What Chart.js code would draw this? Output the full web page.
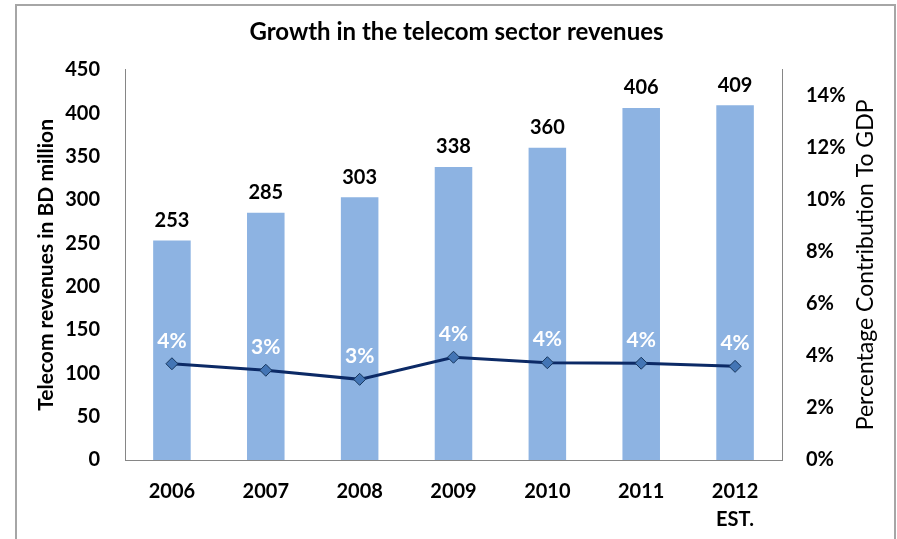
<!DOCTYPE html>
<html>
<head>
<meta charset="utf-8">
<script src="https://cdn.jsdelivr.net/npm/chart.js@4"></script>
<style>
  html, body { margin: 0; padding: 0; background: #fff; overflow: hidden; }
  #frame { position: absolute; left: 15px; top: 4px; width: 877px; height: 600px; border: 2px solid #a6a6a6; }
  #myChart { position: absolute; left: 0; top: 0; }
</style>
</head>
<body>
<div id="frame"></div>
<canvas id="myChart" width="897" height="539"></canvas>
<script>
const FONT = "Lato, 'Open Sans', sans-serif";

// data
const years = ["2006", "2007", "2008", "2009", "2010", "2011", ["2012", "EST."]];
const revenues = [253, 285, 303, 338, 360, 406, 409];
const gdpShare = [0.037, 0.0345, 0.031, 0.0395, 0.0374, 0.0372, 0.036];

Chart.defaults.font.family = FONT;
Chart.defaults.color = "#000";

// value labels above the bars and points, plus the right axis title (reads bottom to top)
const valueLabels = {
  id: "valueLabels",
  afterDatasetsDraw(chart) {
    const ctx = chart.ctx;
    ctx.save();
    ctx.textAlign = "center";
    ctx.textBaseline = "middle";
    ctx.font = "bold 20px " + FONT;
    ctx.fillStyle = "#000";
    chart.getDatasetMeta(0).data.forEach((bar, i) => {
      ctx.fillText(revenues[i], bar.x, bar.y - 20);
    });
    ctx.font = "bold 21px " + FONT;
    ctx.fillStyle = "#fff";
    chart.getDatasetMeta(1).data.forEach((pt, i) => {
      ctx.fillText(Math.round(gdpShare[i] * 100) + "%", pt.x, pt.y - 23);
    });
    const area = chart.chartArea;
    ctx.translate(866, (area.top + area.bottom) / 2);
    ctx.rotate(-Math.PI / 2);
    ctx.font = "23px " + FONT;
    ctx.fillStyle = "#000";
    ctx.fillText("Percentage Contribution To GDP", 0, 0);
    ctx.restore();
  }
};

const ctx = document.getElementById("myChart").getContext("2d");
new Chart(ctx, {
  type: "bar",
  data: {
    labels: years,
    datasets: [
      {
        type: "bar",
        data: revenues,
        yAxisID: "y",
        backgroundColor: "#8db3e2",
        barPercentage: 0.4,
        categoryPercentage: 1,
        order: 2
      },
      {
        type: "line",
        data: gdpShare,
        yAxisID: "y1",
        borderColor: "#0c2a66",
        borderWidth: 3,
        pointStyle: "rectRot",
        pointRadius: 6,
        pointBackgroundColor: "#4375b5",
        pointBorderColor: "#17375e",
        pointBorderWidth: 1,
        tension: 0,
        order: 1
      }
    ]
  },
  options: {
    responsive: false,
    animation: false,
    layout: { padding: { left: 16, top: 0, right: 0, bottom: 0 } },
    plugins: {
      legend: { display: false },
      tooltip: { enabled: false },
      title: {
        display: true,
        text: "Growth in the telecom sector revenues",
        font: { size: 24, weight: "bold" },
        color: "#000",
        padding: { top: 18, bottom: 23 }
      }
    },
    scales: {
      x: {
        grid: { display: false, drawTicks: false },
        border: { color: "#868686", width: 1 },
        ticks: { font: { size: 20, weight: "bold", lineHeight: 1.4 }, padding: 18, maxRotation: 0 },
        afterFit(scale) { scale.height = 79; }
      },
      y: {
        position: "left",
        min: 0,
        max: 450,
        grid: { display: false, drawTicks: false },
        border: { color: "#868686", width: 1 },
        ticks: { stepSize: 50, font: { size: 20, weight: "bold" }, padding: 25 },
        title: {
          display: true,
          text: "Telecom revenues in BD million",
          font: { size: 21, weight: "bold" },
          padding: { top: 18, bottom: 0 }
        },
        afterFit(scale) { scale.width = 109; }
      },
      y1: {
        position: "right",
        min: 0,
        max: 0.15,
        grid: { display: false, drawTicks: false },
        border: { color: "#868686", width: 1 },
        ticks: {
          stepSize: 0.02,
          includeBounds: false,
          font: { size: 20, weight: "bold" },
          padding: 24,
          callback: (v) => Math.round(v * 100) + "%"
        },
        afterFit(scale) { scale.width = 115; }
      }
    }
  },
  plugins: [valueLabels]
});
</script>
</body>
</html>
